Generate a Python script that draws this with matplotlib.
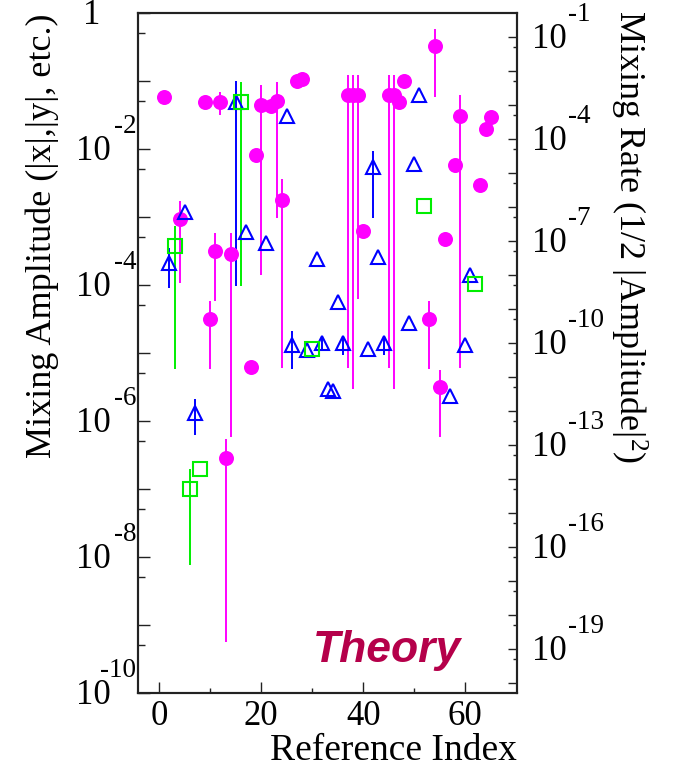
import numpy as np
import matplotlib
matplotlib.use("Agg")
import matplotlib.pyplot as plt
from matplotlib.transforms import offset_copy

nan = np.nan

# ---------------- data ----------------
# magenta filled circles
mag_idx = [1, 4, 9, 10, 11, 12, 13, 14, 18, 19, 20, 22, 23, 24, 27, 28,
           37, 38, 39, 40, 45, 46, 47, 48, 53, 54, 55, 56, 58, 59, 63, 64, 65]
mag_val = [5.9e-2, 9.3e-4, 4.9e-2, 3.2e-5, 3.2e-4, 4.9e-2, 2.9e-7, 2.9e-4,
           6.2e-6, 8.3e-3, 4.4e-2, 4.3e-2, 5.0e-2, 1.8e-3, 1.0e-1, 1.08e-1,
           6.2e-2, 6.2e-2, 6.2e-2, 6.2e-4, 6.2e-2, 6.2e-2, 4.9e-2, 1.0e-1,
           3.2e-5, 3.26e-1, 3.2e-6, 4.8e-4, 5.8e-3, 3.1e-2, 3.0e-3, 2.0e-2, 3.0e-2]
mag_lo = [nan, 1.07e-4, nan, 5.8e-6, 5.8e-5, 3.2e-2, 5.6e-10, 5.9e-7,
          nan, nan, 1.4e-4, nan, 9.8e-4, 6.0e-6, nan, nan,
          6.0e-6, 3.0e-6, 6.2e-5, nan, 6.0e-6, 3.0e-6, nan, nan,
          5.8e-6, 5.9e-2, 5.8e-7, nan, nan, 6.0e-6, nan, nan, nan]
mag_hi = [nan, 1.74e-3, nan, 5.8e-5, 5.8e-4, 6.8e-2, 5.5e-7, 5.8e-4,
          nan, nan, 8.7e-2, nan, 9.8e-2, 3.6e-3, nan, nan,
          1.21e-1, 1.21e-1, 1.21e-1, nan, 1.21e-1, 1.21e-1, nan, nan,
          5.8e-5, 5.8e-1, 5.6e-6, nan, nan, 6.2e-2, nan, nan, nan]

# blue open triangles
blu_idx = [2, 5, 7, 15, 17, 21, 25, 26, 29, 31, 32, 33, 34, 35, 36, 41, 42,
           43, 44, 49, 50, 51, 57, 60, 61]
blu_val = [2.1e-4, 1.17e-3, 1.3e-6, 4.9e-2, 6.0e-4, 4.2e-4, 3.1e-2, 1.3e-5,
           1.12e-5, 2.4e-4, 1.4e-5, 3.0e-6, 2.75e-6, 5.6e-5, 1.4e-5, 1.15e-5,
           5.4e-3, 2.6e-4, 1.4e-5, 2.8e-5, 6.0e-3, 6.2e-2, 2.3e-6, 1.3e-5, 1.4e-4]
blu_lo = [9.1e-5, nan, 6.3e-7, 9.8e-5, nan, nan, nan, 5.8e-6,
          nan, nan, 1.12e-5, nan, nan, nan, 9.5e-6, nan,
          9.8e-4, nan, 9.5e-6, nan, nan, nan, nan, nan, nan]
blu_hi = [3.5e-4, nan, 2.1e-6, 1.0e-1, nan, nan, nan, 2.1e-5,
          nan, nan, 1.8e-5, nan, nan, nan, 1.8e-5, nan,
          9.5e-3, nan, 1.8e-5, nan, nan, nan, nan, nan, nan]

# green open squares
grn_idx = [3, 6, 8, 16, 30, 52, 62]
grn_val = [3.8e-4, 1.0e-7, 2.0e-7, 4.9e-2, 1.15e-5, 1.45e-3, 1.05e-4]
grn_lo = [5.8e-6, 7.6e-9, nan, 9.8e-5, nan, nan, nan]
grn_hi = [7.4e-4, 2.0e-7, nan, 9.8e-2, nan, nan, nan]

x_ticks = [0, 20, 40, 60]
left_label_exp = [0, -2, -4, -6, -8, -10]
right_label_exp = [-1, -4, -7, -10, -13, -16, -19]

MAG = "#FF00FF"
BLU = "#0000FF"
GRN = "#00EE00"
THEORY = "#B5004A"

# ---------------- figure ----------------
plt.rcParams["font.family"] = ["Liberation Serif", "DejaVu Serif"]
plt.rcParams["mathtext.fontset"] = "custom"
plt.rcParams["mathtext.rm"] = "Liberation Serif"
plt.rcParams["mathtext.it"] = "Liberation Serif:italic"

W, H = 673, 769
fig = plt.figure(figsize=(W / 100, H / 100), dpi=100)
ax_l, ax_r, ax_t, ax_b = 138.3, 516.7, 13.0, 693.0
ax = fig.add_axes([ax_l / W, 1 - ax_b / H, (ax_r - ax_l) / W, (ax_b - ax_t) / H])

ax.set_yscale("log")
ax.set_xlim(-4.1, 70.1)
ax.set_ylim(1e-10, 1)


def draw(idx, val, lo, hi, color, marker, ms, filled):
    idx = np.asarray(idx, float)
    val = np.asarray(val, float)
    lo = np.asarray(lo, float)
    hi = np.asarray(hi, float)
    m = ~np.isnan(lo)
    ax.vlines(idx[m], lo[m], hi[m], colors=color, linewidth=1.4, zorder=2)
    if filled:
        ax.plot(idx, val, linestyle="none", marker=marker, ms=ms,
                mfc=color, mec=color, mew=0, zorder=3)
    else:
        ax.plot(idx, val, linestyle="none", marker=marker, ms=ms,
                mfc="none", mec=color, mew=1.5, zorder=3)


draw(mag_idx, mag_val, mag_lo, mag_hi, MAG, "o", 10.8, True)
draw(blu_idx, blu_val, blu_lo, blu_hi, BLU, "^", 10.2, False)
draw(grn_idx, grn_val, grn_lo, grn_hi, GRN, "s", 10.2, False)

# spines
for s in ax.spines.values():
    s.set_linewidth(1.5)
    s.set_color("#222222")

# x ticks
ax.set_xticks(x_ticks)
ax.set_xticks([10, 30, 50], minor=True)
ax.tick_params(axis="x", which="major", direction="in", length=8, width=1.0,
               labelsize=25, pad=5, color="#222222", top=False)
ax.tick_params(axis="x", which="minor", direction="in", length=3.8, width=1.0,
               color="#222222", top=False)

# left y ticks
ax.set_yticks([10.0 ** k for k in range(0, -11, -1)])
ax.set_yticks([5 * 10.0 ** k for k in range(-1, -11, -1)], minor=True)
ax.tick_params(axis="y", which="major", direction="in", length=8.5, width=1.0,
               color="#222222", labelleft=False, right=False)
ax.tick_params(axis="y", which="minor", direction="in", length=4.8, width=1.0,
               color="#222222", right=False)

# right axis: rate = 1/2 amplitude^2
ax2 = ax.twinx()
ax2.set_yscale("log")
ax2.set_ylim(0.5 * 1e-20, 0.5 * 1.0)
ax2.set_yticks([10.0 ** k for k in range(-1, -21, -1)])
ax2.set_yticks([5 * 10.0 ** k for k in range(-2, -21, -1)], minor=True)
ax2.tick_params(axis="y", which="major", direction="in", length=6.5, width=1.0,
                color="#222222", labelright=False)
ax2.tick_params(axis="y", which="minor", direction="in", length=3.2, width=1.0,
                color="#222222")
for s in ax2.spines.values():
    s.set_linewidth(1.5)
    s.set_color("#222222")

# left tick labels (ROOT style: "10" with raised exponent)
tl = ax.get_yaxis_transform()
for e in left_label_exp:
    if e == 0:
        ax.text(0, 1.0, "1", transform=offset_copy(tl, fig, x=-47, y=-11, units="dots"),
                ha="center", va="baseline", fontsize=25, clip_on=False)
        continue
    ax.text(0, 10.0 ** e, "10", transform=offset_copy(tl, fig, x=-28, y=-11.5, units="dots"),
            ha="right", va="baseline", fontsize=25, clip_on=False)
    ax.text(0, 10.0 ** e, "-%d" % (-e), transform=offset_copy(tl, fig, x=-2, y=16, units="dots"),
            ha="right", va="baseline", fontsize=19.5, clip_on=False)

tr = ax2.get_yaxis_transform()
for e in right_label_exp:
    ax2.text(1, 10.0 ** e, "10", transform=offset_copy(tr, fig, x=15, y=-11.5, units="dots"),
             ha="left", va="baseline", fontsize=25, clip_on=False)
    ax2.text(1, 10.0 ** e, "-%d" % (-e), transform=offset_copy(tr, fig, x=51, y=16, units="dots"),
             ha="left", va="baseline", fontsize=19.5, clip_on=False)

# axis titles
fig.text(42 / W, 1 - 13 / H, "Mixing Amplitude (|x|,|y|, etc.)", rotation=90,
         ha="center", va="top", fontsize=26)
fig.text(629 / W, 1 - 10 / H, r"Mixing Rate (1/2 |Amplitude|$^{2}$)", rotation=-90,
         ha="center", va="top", fontsize=26)
fig.text(ax_r / W, 1.5 / H, "Reference Index", ha="right", va="bottom",
         fontsize=27)

ax.text(0.46, 0.046, "Theory", transform=ax.transAxes, ha="left", va="baseline",
        fontsize=32, fontweight="bold", fontstyle="italic", color=THEORY,
        family=["Liberation Sans", "DejaVu Sans"])

fig.savefig("out.png", dpi=100)
